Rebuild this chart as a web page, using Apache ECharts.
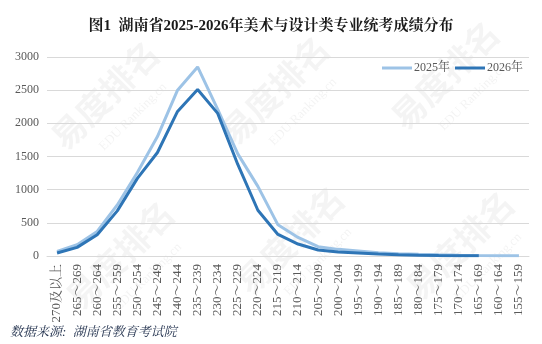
<!DOCTYPE html>
<html><head><meta charset="utf-8">
<script src="https://cdn.jsdelivr.net/npm/echarts@6/dist/echarts.min.js"></script>
<style>html,body{margin:0;padding:0;background:#fff}#c{width:542px;height:344px}</style>
</head><body><div id="c"></div>
<script>
const categories = ['270及以上','265～269','260～264','255～259','250～254','245～249','240～244','235～239','230～234','225～229','220～224','215～219','210～214','205～209','200～204','195～199','190～194','185～189','180～184','175～179','170～174','165～169','160～164','155～159'];
const values2025 = [70,170,370,770,1260,1800,2500,2850,2210,1540,1050,470,280,140,100,75,50,35,25,18,12,8,5,3];
const values2026 = [45,130,320,680,1170,1560,2180,2510,2150,1380,690,325,180,90,60,45,30,20,12,8,5,3];
const yTicks = [0,500,1000,1500,2000,2500,3000];
const seriesNames = ['2025年','2026年'];

const serif = '"Times New Roman","Liberation Serif","Noto Serif CJK SC","Noto Sans CJK SC",serif';
const chart = echarts.init(document.getElementById('c'), null, {renderer:'canvas'});

const wmPos = [[105,95],[275,90],[445,75],[120,255],[290,240],[460,245]];
const wm = [];
wmPos.forEach(p => {
  wm.push({type:'text', x:p[0], y:p[1], rotation:Math.PI/4, silent:true, z:-10,
    style:{text:'易度排名', fontSize:34, fontWeight:'bold', fill:'rgba(0,0,0,0.045)', fontFamily:'"Noto Sans CJK SC",sans-serif', align:'center', verticalAlign:'middle'}});
  wm.push({type:'text', x:p[0]+28, y:p[1]+22, rotation:Math.PI/4, silent:true, z:-10,
    style:{text:'EDU Ranking.cn', fontSize:13, fill:'rgba(0,0,0,0.05)', fontFamily:serif, align:'center', verticalAlign:'middle'}});
});

chart.setOption({
  backgroundColor:'#fff',
  animation:false,
  title:{text:'图1  湖南省2025-2026年美术与设计类专业统考成绩分布', left:'center', top:14,
    textStyle:{fontSize:15, fontWeight:'bold', color:'#1a1a1a', fontFamily:serif}},
  legend:{left:377, top:57, icon:'rect', itemWidth:30, itemHeight:3, itemGap:5,
    textStyle:{fontSize:12, color:'#595959', fontFamily:serif, padding:[0,0,0,-3]},
    data:seriesNames},
  grid:{left:47, right:13, top:57, bottom:88, containLabel:false},
  xAxis:{type:'category', data:categories, boundaryGap:true,
    axisLine:{lineStyle:{color:'#d9d9d9'}}, axisTick:{show:false},
    axisLabel:{rotate:90, interval:0, fontSize:13, color:'#595959', fontFamily:serif, margin:8}},
  yAxis:{type:'value', min:yTicks[0], max:yTicks[yTicks.length-1], interval:yTicks[1]-yTicks[0],
    axisLine:{show:false}, axisTick:{show:false},
    splitLine:{lineStyle:{color:'#d9d9d9'}},
    axisLabel:{fontSize:12, color:'#595959', fontFamily:serif, margin:8, formatter:v => String(v)}},
  graphic:[...wm,
    {type:'text', left:10, top:326, style:{text:'数据来源:  湖南省教育考试院', fontSize:13, fontStyle:'italic', fill:'#24334f', fontFamily:serif}}],
  series:[
    {name:seriesNames[0], type:'line', data:values2025, symbol:'none', lineStyle:{width:3, color:'#9dc3e6'}, itemStyle:{color:'#9dc3e6'}, z:2},
    {name:seriesNames[1], type:'line', data:values2026, symbol:'none', lineStyle:{width:3, color:'#2e75b6'}, itemStyle:{color:'#2e75b6'}, z:3}
  ]
});
</script></body></html>
